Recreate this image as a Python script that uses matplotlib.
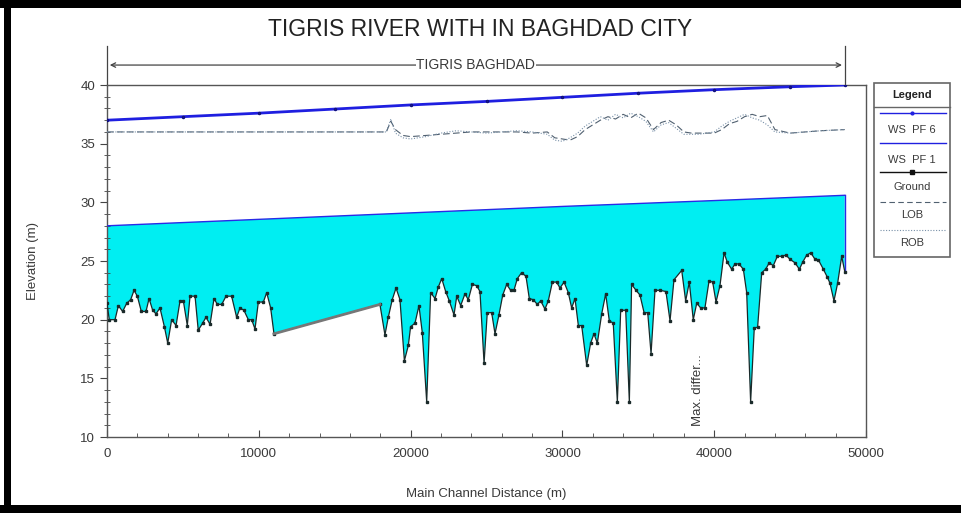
import matplotlib
matplotlib.use('Agg')
import matplotlib.pyplot as plt
from matplotlib.patches import Rectangle
from matplotlib.lines import Line2D
from matplotlib.ticker import MultipleLocator

# ground profile (main channel distance m, elevation m)
ground_x = [0, 150, 530, 750, 1030, 1300, 1560, 1780, 2000, 2260, 2570, 2770, 3010, 3230,
            3490, 3780, 4000, 4260, 4550, 4810, 5030, 5290, 5470, 5800, 6010, 6300, 6520,
            6790, 7050, 7270, 7560, 7840, 8210, 8540, 8760, 9020, 9310, 9530, 9750, 9970,
            10300, 10520, 10780, 11000,
            17980, 18310, 18530, 18790, 19040, 19300, 19590, 19850, 20000, 20290, 20550,
            20770, 21060, 21320, 21610, 21830, 22050, 22310, 22550, 22860, 23040, 23300,
            23580, 23800, 24070, 24350, 24570, 24840, 25050, 25340, 25560, 25820, 26070,
            26330, 26590, 26810, 27030, 27310, 27600, 27820, 28080, 28350, 28570, 28850,
            29070, 29340, 29620, 29840, 30110, 30390, 30610, 30830, 31050, 31270, 31600,
            31860, 32080, 32300, 32590, 32850, 33090, 33350, 33620, 33840, 34170, 34410,
            34560, 34850, 35110, 35380, 35620, 35840, 36100, 36430, 36820, 37090, 37350,
            37860, 38120, 38360, 38620, 38850, 39110, 39390, 39660, 39900, 40120, 40380,
            40650, 40860, 41150, 41370, 41630, 41920, 42140, 42400, 42640, 42860, 43130,
            43390, 43630, 43890, 44160, 44440, 44730, 44990, 45320, 45610, 45830, 46090,
            46360, 46640, 46860, 47190, 47460, 47630, 47890, 48130, 48400, 48600]
ground_z = [21.4, 20.0, 20.0, 21.2, 20.7, 21.4, 21.7, 22.5, 22.0, 20.7, 20.7, 21.8, 20.8, 20.5,
            21.0, 19.4, 18.0, 20.0, 19.5, 21.6, 21.6, 19.5, 22.0, 22.0, 19.1, 19.7, 20.2,
            19.6, 21.8, 21.3, 21.3, 22.0, 22.0, 20.2, 21.0, 20.8, 20.0, 20.0, 19.2, 21.5,
            21.5, 22.3, 21.0, 18.8,
            21.3, 18.7, 20.2, 21.7, 22.7, 21.7, 16.5, 17.8, 19.4, 19.7, 21.2,
            18.9, 13.0, 22.3, 21.8, 22.8, 23.5, 22.4, 21.6, 20.4, 22.0, 21.2,
            22.2, 21.7, 23.0, 22.9, 22.4, 16.3, 20.6, 20.6, 18.8, 20.4, 22.1,
            23.0, 22.5, 22.5, 23.5, 24.0, 23.7, 21.8, 21.7, 21.3, 21.6, 20.9,
            21.6, 23.2, 23.2, 22.7, 23.2, 22.3, 21.0, 21.8, 19.5, 19.5, 16.1,
            18.0, 18.8, 18.0, 20.5, 22.2, 19.9, 19.7, 13.0, 20.8, 20.8, 13.0,
            23.0, 22.5, 22.1, 20.6, 20.6, 17.1, 22.5, 22.5, 22.4, 19.9, 23.4,
            24.2, 21.6, 23.2, 20.0, 21.4, 21.0, 21.0, 23.3, 23.2, 21.5, 22.9,
            25.7, 24.9, 24.3, 24.75, 24.75, 24.3, 22.3, 13.0, 19.3, 19.35, 24.0,
            24.3, 24.85, 24.6, 25.4, 25.4, 25.5, 25.15, 24.85, 24.3, 24.9, 25.5,
            25.7, 25.15, 25.1, 24.3, 23.6, 23.1, 21.6, 23.1, 25.4, 24.1]

# water surface profiles
ws6_x = [0, 5000, 10000, 15000, 20000, 25000, 30000, 35000, 40000, 45000, 48600]
ws6_z = [37.0, 37.3, 37.6, 37.95, 38.3, 38.6, 38.95, 39.3, 39.6, 39.85, 40.0]
ws1_x = [0, 10000, 20000, 30000, 40000, 48600]
ws1_z = [28.0, 28.55, 29.1, 29.65, 30.15, 30.6]

# left / right overbank stations
bank_x = [0, 18400, 18700, 19000, 19500, 20000, 21000, 22000, 23000, 24000, 25000, 26000,
          27000, 28000, 29000, 29500, 30000, 30500, 31000, 31500, 32000, 32500, 33000,
          33500, 34000, 34500, 35000, 35500, 36000, 36500, 37000, 37500, 38000, 38500,
          39000, 40000, 40500, 41000, 41500, 42000, 42500, 43000, 43500, 44000, 45000,
          46000, 47000, 48600]
lob_z = [36.0, 36.0, 36.9, 36.2, 35.7, 35.6, 35.7, 35.8, 35.9, 36.0, 36.0, 36.0,
         36.0, 35.9, 36.0, 35.5, 35.4, 35.3, 35.6, 36.2, 36.6, 37.0, 37.3,
         37.1, 37.5, 37.2, 37.6, 37.2, 36.2, 36.8, 37.0, 36.6, 36.0, 35.9,
         35.9, 35.9, 36.2, 36.7, 36.9, 37.3, 37.5, 37.3, 37.4, 36.2, 35.9,
         36.0, 36.1, 36.2]
rob_z = [36.0, 36.0, 37.1, 35.9, 35.5, 35.4, 35.6, 35.9, 36.1, 36.0, 35.9, 36.0,
         36.1, 36.0, 35.8, 35.3, 35.2, 35.5, 35.9, 36.5, 36.9, 37.3, 37.0,
         37.5, 37.2, 37.6, 37.3, 36.9, 36.0, 36.6, 36.8, 36.3, 35.8, 35.8,
         35.8, 36.0, 36.5, 36.9, 37.2, 37.5, 37.2, 37.0, 36.6, 36.0, 35.9,
         36.0, 36.1, 36.2]

reach_start, reach_end = 0, 48600
gap_index = 43  # last section before the long reach without cross sections

legend_labels = ['WS  PF 6', 'WS  PF 1', 'Ground', 'LOB', 'ROB']

plt.rcParams['font.family'] = ['Liberation Sans', 'DejaVu Sans']
txt = '#3a3a3a'

fig = plt.figure(figsize=(9.61, 5.13), dpi=100)
ax = fig.add_axes([107 / 961, 76 / 513, 759 / 961, 352 / 513])

# water area between ground and WS PF 1
ax.fill(ground_x + ws1_x[::-1], ground_z + ws1_z[::-1], color='#00eef2', lw=0, zorder=1)
ax.plot(ws1_x, ws1_z, color='#2a2ae6', lw=1.0, zorder=3)
ax.plot([ws1_x[-1], ground_x[-1]], [ws1_z[-1], ground_z[-1]], color='#2a2ae6', lw=1.0, zorder=3)

ax.plot(ground_x, ground_z, color='#1a2a2a', lw=0.9, marker='s', ms=1.8, zorder=4)
ax.plot(ground_x[gap_index:gap_index + 2], ground_z[gap_index:gap_index + 2],
        color='#777777', lw=2.0, zorder=5)

ax.plot(ws6_x, ws6_z, color='#1f1fe0', lw=2.0, marker='.', ms=3, mec='#10107a', zorder=4)
ax.plot(bank_x, lob_z, color='#506070', lw=0.8, ls=(0, (6, 3)), zorder=3)
ax.plot(bank_x, rob_z, color='#7890a8', lw=0.8, ls=(0, (1, 1.5)), zorder=3)

ax.set_xlim(0, 50000)
ax.set_ylim(10, 40)
ax.xaxis.set_major_locator(MultipleLocator(10000))
ax.xaxis.set_minor_locator(MultipleLocator(2000))
ax.yaxis.set_major_locator(MultipleLocator(5))
ax.yaxis.set_minor_locator(MultipleLocator(1))
ax.tick_params(axis='x', which='major', direction='in', length=5, labelsize=9.5,
               colors='#444444', labelcolor=txt, pad=8)
ax.tick_params(axis='x', which='minor', direction='in', length=3, colors='#444444')
ax.tick_params(axis='y', which='major', direction='out', length=5, labelsize=9.5,
               colors='#444444', labelcolor=txt)
ax.tick_params(axis='y', which='minor', direction='inout', length=4, colors='#444444')
for s in ax.spines.values():
    s.set_color('#555555')
    s.set_linewidth(1.0)

ax.set_xlabel('Main Channel Distance (m)', fontsize=9.5, color=txt, labelpad=20)
ax.set_ylabel('Elevation (m)', fontsize=9.5, color=txt, labelpad=30)

ax.text(38900, 10.9, 'Max. differ...', rotation=90, ha='center', va='bottom',
        fontsize=9.5, color=txt, zorder=6)

# reach marker above the plot
ax.annotate('', xy=(reach_start, 41.7), xytext=(reach_end, 41.7),
            arrowprops=dict(arrowstyle='<->', color='#444444', lw=0.9,
                            mutation_scale=8), annotation_clip=False)
ax.plot([reach_start, reach_start], [40, 43.3], color='#444444', lw=0.9, clip_on=False)
ax.plot([reach_end, reach_end], [40, 43.3], color='#444444', lw=0.9, clip_on=False)
ax.text((reach_start + reach_end) / 2, 41.7, 'TIGRIS BAGHDAD', ha='center', va='center',
        fontsize=10, color=txt, bbox=dict(fc='white', ec='none', pad=0.5), clip_on=False)

fig.text(0.5, 0.943, 'TIGRIS RIVER WITH IN BAGHDAD CITY', ha='center', va='center',
         fontsize=16.5, color='#222222')

# legend panel
lx0, lx1 = 874 / 961, 950 / 961
ly_top, ly_bot = 1 - 83 / 513, 1 - 257 / 513
fig.patches.append(Rectangle((lx0, ly_bot), lx1 - lx0, ly_top - ly_bot, transform=fig.transFigure,
                             fill=False, ec='#666666', lw=1.2))
fig.lines.append(Line2D([lx0, lx1], [1 - 107 / 513] * 2, transform=fig.transFigure,
                        color='#666666', lw=1.0))
fig.text((lx0 + lx1) / 2, 1 - 95 / 513, 'Legend', ha='center', va='center', fontsize=8,
         weight='bold', color='#222222')
sample_y = [113, 143, 172, 202, 230]
label_y = [130, 160, 187, 215, 243]
styles = [dict(color='#2020e0', lw=1.0), dict(color='#2020e0', lw=1.0),
          dict(color='#111111', lw=1.0), dict(color='#506070', lw=0.8, ls=(0, (5, 3))),
          dict(color='#7890a8', lw=0.8, ls=(0, (1, 1.5)))]
for lab, sy, ty, st in zip(legend_labels, sample_y, label_y, styles):
    fig.lines.append(Line2D([lx0 + 0.006, lx1 - 0.004], [1 - sy / 513] * 2,
                            transform=fig.transFigure, **st))
    fig.text((lx0 + lx1) / 2, 1 - ty / 513, lab, ha='center', va='center', fontsize=8,
             color=txt)
for sy, mk, c in [(113, '.', '#2020e0'), (172, 's', '#111111')]:
    fig.lines.append(Line2D([(lx0 + lx1) / 2], [1 - sy / 513], transform=fig.transFigure,
                            marker=mk, ms=3 if mk == 's' else 4, color=c, ls='none'))

# black frame of the screenshot
for rect in [(0, 1 - 8 / 513, 1, 8 / 513), (4 / 961, 0, 7 / 961, 1), (0, 0, 1, 8 / 513)]:
    fig.patches.append(Rectangle(rect[:2], rect[2], rect[3], transform=fig.transFigure,
                                 color='black', lw=0))

fig.savefig('out.png', dpi=100)
